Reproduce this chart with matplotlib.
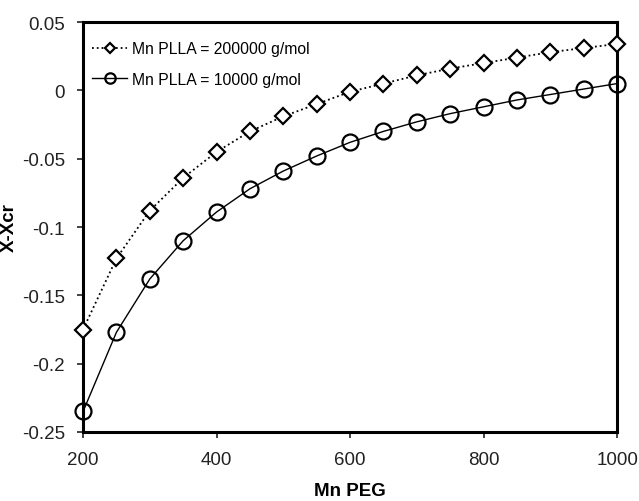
import matplotlib
matplotlib.use("Agg")
import matplotlib.pyplot as plt

plt.rcParams['font.family'] = ['Liberation Sans', 'DejaVu Sans']

mn_peg = [200, 250, 300, 350, 400, 450, 500, 550, 600, 650, 700, 750, 800, 850, 900, 950, 1000]
x_high = [-0.175, -0.123, -0.088, -0.064, -0.045, -0.030, -0.019, -0.010, -0.001, 0.005,
          0.011, 0.016, 0.020, 0.024, 0.028, 0.031, 0.034]
x_low = [-0.235, -0.177, -0.138, -0.110, -0.089, -0.072, -0.059, -0.048, -0.038, -0.030,
         -0.023, -0.017, -0.012, -0.007, -0.003, 0.001, 0.005]

fig = plt.figure(figsize=(6.39, 5.02), dpi=100)
ax = fig.add_axes([0.130, 0.1375, 0.8357, 0.8165])

ax.plot(mn_peg, x_high, color='black', linestyle=':', linewidth=1.3, marker='D',
        markersize=8, markerfacecolor='white', markeredgecolor='black', markeredgewidth=1.6,
        label='Mn PLLA = 200000 g/mol', clip_on=False, zorder=3)
ax.plot(mn_peg, x_low, color='black', linestyle='-', linewidth=1.0, marker='o',
        markersize=11.5, markerfacecolor='none', markeredgecolor='black', markeredgewidth=1.6,
        label='Mn PLLA = 10000 g/mol', clip_on=False, zorder=3)

ax.set_xlim(200, 1000)
ax.set_ylim(-0.25, 0.05)
ax.set_xticks([200, 400, 600, 800, 1000])
ax.set_yticks([-0.25, -0.2, -0.15, -0.1, -0.05, 0, 0.05])
ax.set_yticklabels(['-0.25', '-0.2', '-0.15', '-0.1', '-0.05', '0', '0.05'])

for sp in ax.spines.values():
    sp.set_linewidth(2.2)
ax.tick_params(direction='out', length=4, width=1.2, labelsize=13.5, colors='#222222')
ax.tick_params(axis='x', pad=10)
ax.tick_params(axis='y', pad=9)

ax.set_xlabel('Mn PEG', fontsize=13.5, fontweight='bold', labelpad=10)
ax.set_ylabel('X-Xcr', fontsize=13.5, fontweight='bold')
ax.yaxis.set_label_coords(-0.122, 0.5)

ax.legend(loc='upper left', frameon=False, fontsize=11.3, handlelength=2.2,
          handletextpad=0.3, borderaxespad=0.3, labelspacing=1.0, markerscale=0.65,
          bbox_to_anchor=(-0.003, 0.98))

fig.savefig('out.png', dpi=100)
